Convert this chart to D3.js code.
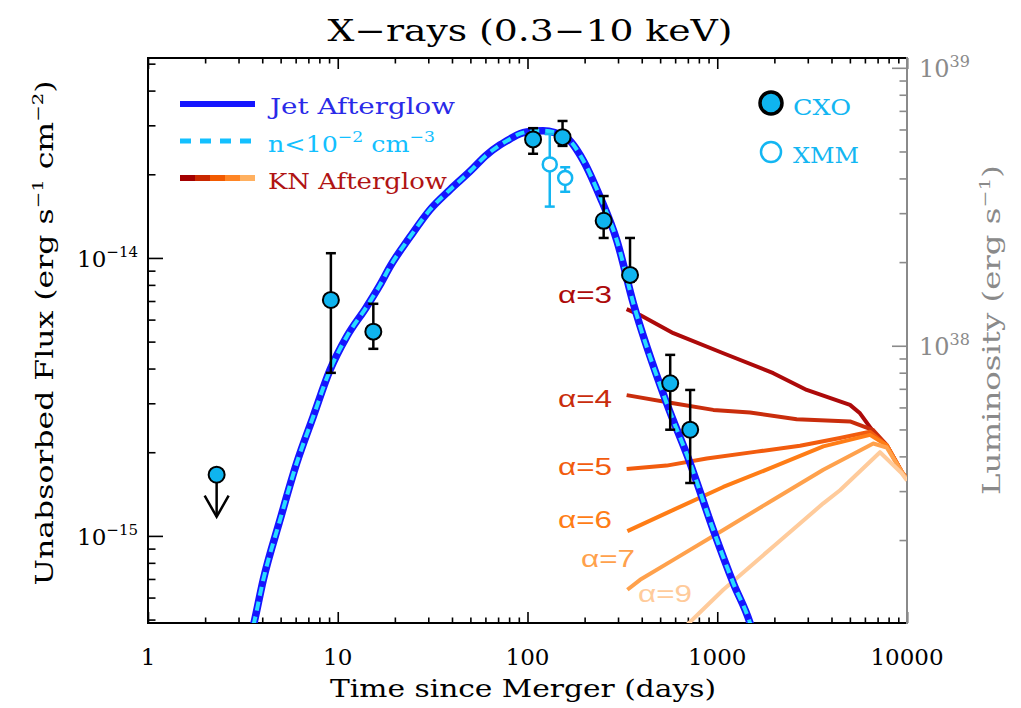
<!DOCTYPE html>
<html>
<head>
<meta charset="utf-8">
<script src="https://cdn.jsdelivr.net/npm/d3@7"></script>
<style>
  html, body { margin: 0; padding: 0; background: #fff; }
  svg { display: block; font-family: "DejaVu Serif", serif; }
  text { white-space: pre; }
</style>
</head>
<body>
<div id="chart"></div>
<script>
// ---- data ----
const DAY_DOMAIN = [1, 10000];
const FLUX_DOMAIN = [4.86e-16, 5.24e-14];
const LUM_PER_FLUX = 2.07e52;           // right axis scaling

const xMajor = [1, 10, 100, 1000, 10000];
const yMajor = [1e-15, 1e-14];
const lumMajor = [1e38, 1e39];

// Chandra points
const cxoDays   = [9.2, 15.4, 107, 153, 252, 347, 565, 720];
const cxoFlux   = [7.06e-15, 5.43e-15, 2.67e-14, 2.72e-14, 1.36e-14, 8.69e-15, 3.54e-15, 2.41e-15];
const cxoFluxHi = [1.04e-14, 6.84e-15, 2.93e-14, 3.11e-14, 1.67e-14, 1.18e-14, 4.48e-15, 3.35e-15];
const cxoFluxLo = [3.86e-15, 4.71e-15, 2.37e-14, 2.53e-14, 1.18e-14, 8.22e-15, 2.41e-15, 1.55e-15];

// XMM points
const xmmDays   = [131, 158];
const xmmFlux   = [2.17e-14, 1.94e-14];
const xmmFluxHi = [2.79e-14, 2.12e-14];
const xmmFluxLo = [1.53e-14, 1.73e-14];

// early upper limit
const ulDays = [2.3];
const ulFlux = [1.66e-15];

// jet afterglow model
const jetDays = [3.45, 3.62, 4.05, 4.96, 6.08, 7.43, 9.10, 11.15, 14.21, 16.7, 18.86, 24.03, 30.6, 39.05,
  49.8, 60.96, 71.6, 80.9, 91.3, 99.0, 120.7, 160.9, 196.1, 241.1, 295.2, 361.1, 541.5, 718.6, 953.3,
  1215, 1488, 1581];
const jetFlux = [4.23e-16, 4.86e-16, 6.95e-16, 1.14e-15, 1.83e-15, 2.69e-15, 3.95e-15, 5.21e-15, 6.68e-15,
  8.0e-15, 9.31e-15, 1.19e-14, 1.49e-14, 1.76e-14, 2.05e-14, 2.35e-14, 2.55e-14, 2.68e-14, 2.80e-14,
  2.84e-14, 2.87e-14, 2.70e-14, 2.25e-14, 1.66e-14, 1.16e-14, 6.87e-15, 3.0e-15, 1.83e-15, 1.05e-15,
  6.76e-16, 4.86e-16, 4.23e-16];

// kilonova afterglow models
const knAlpha = ["3", "4", "5", "6", "7", "9"];
const knColors = ["#ad0a0a", "#c92d0c", "#f25c0e", "#ff7d16", "#ffa14c", "#ffcb9b"];
const knDays = [
  [333, 392, 587, 1076, 1974, 2961, 5007, 5654, 6644, 7817, 9377, 10000],
  [333, 587, 953, 1488, 2622, 5007, 6644, 7817, 9377, 10000],
  [333, 541, 880, 1614, 2730, 4436, 6383, 7817, 9377, 10000],
  [336, 587, 1076, 1974, 3622, 6383, 7817, 9377, 10000],
  [336, 392, 587, 1076, 1974, 3622, 6644, 7817, 9377, 10000],
  [636, 1076, 1974, 3622, 4436, 7206, 9377, 10000]
];
const knFlux = [
  [6.54e-15, 6.23e-15, 5.36e-15, 4.54e-15, 3.85e-15, 3.35e-15, 2.96e-15, 2.76e-15, 2.37e-15, 2.12e-15, 1.70e-15, 1.60e-15],
  [3.21e-15, 3.0e-15, 2.84e-15, 2.78e-15, 2.63e-15, 2.58e-15, 2.40e-15, 2.12e-15, 1.70e-15, 1.60e-15],
  [1.74e-15, 1.79e-15, 1.90e-15, 2.01e-15, 2.11e-15, 2.25e-15, 2.37e-15, 2.12e-15, 1.70e-15, 1.60e-15],
  [1.04e-15, 1.24e-15, 1.50e-15, 1.77e-15, 2.10e-15, 2.31e-15, 2.12e-15, 1.70e-15, 1.60e-15],
  [6.40e-16, 6.95e-16, 8.20e-16, 1.05e-15, 1.35e-15, 1.73e-15, 2.15e-15, 2.08e-15, 1.70e-15, 1.60e-15],
  [4.52e-16, 6.40e-16, 9.16e-16, 1.31e-15, 1.46e-15, 2.00e-15, 1.68e-15, 1.58e-15]
];
// alpha labels: day at the label's right edge, flux at its baseline
const knLabelDays = [279, 279, 279, 279, 369, 736];
const knLabelFlux = [6.89e-15, 2.91e-15, 1.66e-15, 1.07e-15, 7.74e-16, 5.79e-16];

const CYAN = "#13b6f2";

// ---- drawing ----
const W = 1021, H = 708;
const m = { top: 58, right: 114, bottom: 85, left: 148 };

const svg = d3.select("#chart").append("svg")
  .attr("width", W).attr("height", H)
  .attr("viewBox", [0, 0, W, H]);

const x = d3.scaleLog().domain(DAY_DOMAIN).range([m.left, W - m.right]);
const y = d3.scaleLog().domain(FLUX_DOMAIN).range([H - m.bottom, m.top]);
const yL = d3.scaleLog().domain(FLUX_DOMAIN.map(f => f * LUM_PER_FLUX)).range([H - m.bottom, m.top]);

function minorsFor(scale) {
  const [a, b] = scale.domain();
  const out = [];
  for (let e = Math.floor(Math.log10(a)); e <= Math.ceil(Math.log10(b)); e++) {
    for (let k = 2; k <= 9; k++) {
      const v = k * Math.pow(10, e);
      if (v >= a * 1.0001 && v <= b * 0.9999) out.push(v);
    }
  }
  return out;
}

// rich text with superscripts: parts = [[text, isSup], ...]
function rich(sel, parts, supSize, rise) {
  let up = false;
  parts.forEach(([t, s]) => {
    const ts = sel.append("tspan").text(t);
    if (s) {
      ts.attr("font-size", supSize);
      if (!up) { ts.attr("dy", -rise); up = true; }
    } else if (up) {
      ts.attr("dy", rise); up = false;
    }
  });
  return sel;
}

function tickLayer(axisGen, transform, vals, size, color) {
  const g = svg.append("g").attr("transform", transform)
    .call(axisGen.tickValues(vals).tickSize(size).tickSizeOuter(0).tickFormat(""));
  g.select(".domain").remove();
  g.selectAll(".tick line").attr("stroke", color).attr("stroke-width", 1.6);
  return g;
}

const xMinor = minorsFor(x), yMinor = minorsFor(y), lumMinor = minorsFor(yL);
const bottomY = H - m.bottom, rightX = W - m.right;

// x ticks (bottom + top, pointing inwards)
tickLayer(d3.axisBottom(x), `translate(0,${bottomY})`, xMinor, -5.5, "#000");
tickLayer(d3.axisBottom(x), `translate(0,${bottomY})`, xMajor, -11, "#000");
tickLayer(d3.axisTop(x), `translate(0,${m.top})`, xMinor, -5.5, "#000");
tickLayer(d3.axisTop(x), `translate(0,${m.top})`, xMajor, -11, "#000");
// left y ticks
tickLayer(d3.axisLeft(y), `translate(${m.left},0)`, yMinor, -7.5, "#000");
tickLayer(d3.axisLeft(y), `translate(${m.left},0)`, yMajor, -15, "#000");
// right luminosity ticks
tickLayer(d3.axisRight(yL), `translate(${rightX},0)`, lumMinor, -7.5, "#8a8a8a");
tickLayer(d3.axisRight(yL), `translate(${rightX},0)`, lumMajor, -15, "#8a8a8a");

// frame
svg.append("path")
  .attr("d", `M${rightX},${m.top}H${m.left}V${bottomY}H${rightX}`)
  .attr("fill", "none").attr("stroke", "#000").attr("stroke-width", 2);
svg.append("line")
  .attr("x1", rightX).attr("x2", rightX).attr("y1", m.top - 1).attr("y2", bottomY + 1)
  .attr("stroke", "#8a8a8a").attr("stroke-width", 2);

// tick labels
svg.append("g").selectAll("text").data(xMajor).join("text")
  .attr("x", d => x(d)).attr("y", 665)
  .attr("text-anchor", "middle").attr("font-size", 23)
  .text(d => d);

svg.append("g").selectAll("text").data(yMajor).join("text")
  .attr("x", 138).attr("y", d => y(d) + 9)
  .attr("text-anchor", "end").attr("font-size", 23)
  .each(function (d) {
    rich(d3.select(this), [["10", false], ["\u2212" + Math.round(-Math.log10(d)), true]], 15, 10);
  });

svg.append("g").selectAll("text").data(lumMajor).join("text")
  .attr("x", 919).attr("y", d => yL(d) + 9)
  .attr("font-size", 24).attr("fill", "#8a8a8a")
  .each(function (d) {
    rich(d3.select(this), [["10", false], [String(Math.round(Math.log10(d))), true]], 16, 10);
  });

// axis titles
svg.append("text")
  .attr("x", 530).attr("y", 41).attr("text-anchor", "middle")
  .attr("font-size", 29).attr("textLength", 405).attr("lengthAdjust", "spacingAndGlyphs")
  .text("X\u2212rays (0.3\u221210 keV)");

svg.append("text")
  .attr("x", 523).attr("y", 697).attr("text-anchor", "middle")
  .attr("font-size", 24).attr("textLength", 386).attr("lengthAdjust", "spacingAndGlyphs")
  .text("Time since Merger (days)");

rich(svg.append("text")
  .attr("transform", "translate(53,333) rotate(-90)").attr("text-anchor", "middle")
  .attr("font-size", 24).attr("textLength", 505).attr("lengthAdjust", "spacingAndGlyphs"),
  [["Unabsorbed Flux (erg s", false], ["\u22121", true], [" cm", false], ["\u22122", true], [")", false]], 15, 10);

rich(svg.append("text")
  .attr("transform", "translate(1000,330) rotate(-90)").attr("text-anchor", "middle")
  .attr("font-size", 24).attr("fill", "#8a8a8a").attr("textLength", 330).attr("lengthAdjust", "spacingAndGlyphs"),
  [["Luminosity (erg s", false], ["\u22121", true], [")", false]], 15, 10);

// ---- plot content (clipped) ----
svg.append("clipPath").attr("id", "plot-clip")
  .append("rect").attr("x", m.left).attr("y", m.top)
  .attr("width", rightX - m.left).attr("height", bottomY - m.top);
const plot = svg.append("g").attr("clip-path", "url(#plot-clip)");

const line = d3.line().x(d => x(d[0])).y(d => y(d[1]));

knDays.forEach((days, i) => {
  plot.append("path")
    .datum(days.map((t, j) => [t, knFlux[i][j]]))
    .attr("d", line.curve(d3.curveLinear))
    .attr("fill", "none").attr("stroke", knColors[i]).attr("stroke-width", 4)
    .attr("stroke-linejoin", "round");
});

const jetPts = jetDays.map((t, j) => [t, jetFlux[j]]);
plot.append("path").datum(jetPts)
  .attr("d", line.curve(d3.curveMonotoneX))
  .attr("fill", "none").attr("stroke", "#1515ff").attr("stroke-width", 7.5);
plot.append("path").datum(jetPts)
  .attr("d", line.curve(d3.curveMonotoneX))
  .attr("fill", "none").attr("stroke", "#27dcff").attr("stroke-width", 4)
  .attr("stroke-dasharray", "9,6");

// alpha labels
knAlpha.forEach((a, i) => {
  svg.append("text")
    .attr("x", x(knLabelDays[i])).attr("y", y(knLabelFlux[i]))
    .attr("text-anchor", "end").attr("font-size", 23).attr("fill", knColors[i])
    .attr("font-family", "'Liberation Sans', Arial, sans-serif")
    .attr("textLength", 54).attr("lengthAdjust", "spacingAndGlyphs")
    .text("\u03b1=" + a);
});

// error bars
function errorBars(days, lo, hi, color, cap) {
  const g = plot.append("g").attr("stroke", color).attr("stroke-width", 2.5);
  days.forEach((t, i) => {
    const cx = x(t);
    g.append("line").attr("x1", cx).attr("x2", cx).attr("y1", y(lo[i])).attr("y2", y(hi[i]));
    g.append("line").attr("x1", cx - cap).attr("x2", cx + cap).attr("y1", y(lo[i])).attr("y2", y(lo[i]));
    g.append("line").attr("x1", cx - cap).attr("x2", cx + cap).attr("y1", y(hi[i])).attr("y2", y(hi[i]));
  });
}
errorBars(xmmDays, xmmFluxLo, xmmFluxHi, CYAN, 5);
errorBars(cxoDays, cxoFluxLo, cxoFluxHi, "#000", 5);

// XMM open circles
plot.selectAll("circle.xmm").data(xmmDays).join("circle").attr("class", "xmm")
  .attr("cx", d => x(d)).attr("cy", (d, i) => y(xmmFlux[i])).attr("r", 7)
  .attr("fill", "#fff").attr("stroke", CYAN).attr("stroke-width", 2.5);

// upper limit arrow
ulDays.forEach((t, i) => {
  const cx = x(t), cy = y(ulFlux[i]);
  const g = plot.append("g").attr("stroke", "#000").attr("stroke-width", 2.5).attr("fill", "none");
  g.append("line").attr("x1", cx).attr("x2", cx).attr("y1", cy).attr("y2", cy + 42);
  g.append("path").attr("d", `M${cx - 12},${cy + 21}L${cx},${cy + 42}L${cx + 12},${cy + 21}`);
});

// CXO filled circles
const cxoAll = cxoDays.map((t, i) => [t, cxoFlux[i]]).concat(ulDays.map((t, i) => [t, ulFlux[i]]));
plot.selectAll("circle.cxo").data(cxoAll).join("circle").attr("class", "cxo")
  .attr("cx", d => x(d[0])).attr("cy", d => y(d[1])).attr("r", 8)
  .attr("fill", "#0fb4ef").attr("stroke", "#000").attr("stroke-width", 2);

// ---- legends ----
const lg = svg.append("g");
lg.append("line").attr("x1", 180).attr("x2", 255).attr("y1", 104).attr("y2", 104)
  .attr("stroke", "#1515ff").attr("stroke-width", 6);
lg.append("text").attr("x", 270).attr("y", 114).attr("font-size", 22).attr("fill", "#2a2ae8")
  .attr("textLength", 185).attr("lengthAdjust", "spacingAndGlyphs").text("Jet Afterglow");

lg.append("line").attr("x1", 180).attr("x2", 255).attr("y1", 141).attr("y2", 141)
  .attr("stroke", "#13c0ff").attr("stroke-width", 5).attr("stroke-dasharray", "11,9");
rich(lg.append("text").attr("x", 268).attr("y", 152).attr("font-size", 22).attr("fill", "#13c0ff")
  .attr("textLength", 167).attr("lengthAdjust", "spacingAndGlyphs"),
  [["n<10", false], ["\u22122", true], [" cm", false], ["\u22123", true]], 15, 10);

const segColors = ["#a30000", "#c92800", "#f25a00", "#ff8524", "#ffb060"];
lg.selectAll("line.kn").data(segColors).join("line").attr("class", "kn")
  .attr("x1", (d, i) => 180 + i * 15).attr("x2", (d, i) => 195 + i * 15)
  .attr("y1", 178).attr("y2", 178).attr("stroke", d => d).attr("stroke-width", 6);
lg.append("text").attr("x", 268).attr("y", 189).attr("font-size", 22).attr("fill", "#b01414")
  .attr("textLength", 179).attr("lengthAdjust", "spacingAndGlyphs").text("KN Afterglow");

lg.append("circle").attr("cx", 771).attr("cy", 103).attr("r", 11)
  .attr("fill", "#0fb4ef").attr("stroke", "#000").attr("stroke-width", 3.5);
lg.append("text").attr("x", 793).attr("y", 115).attr("font-size", 23).attr("fill", CYAN)
  .attr("textLength", 58).attr("lengthAdjust", "spacingAndGlyphs").text("CXO");
lg.append("circle").attr("cx", 771).attr("cy", 152).attr("r", 10)
  .attr("fill", "#fff").attr("stroke", CYAN).attr("stroke-width", 2.5);
lg.append("text").attr("x", 793).attr("y", 163).attr("font-size", 23).attr("fill", CYAN)
  .attr("textLength", 66).attr("lengthAdjust", "spacingAndGlyphs").text("XMM");
</script>
</body>
</html>
